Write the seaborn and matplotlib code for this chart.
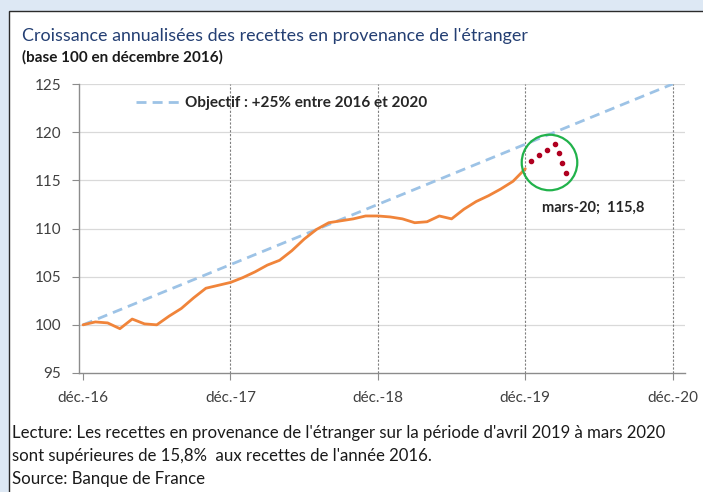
import seaborn as sns
import matplotlib.pyplot as plt
import matplotlib.patches as mpatches
import pandas as pd

# données (base 100 en décembre 2016), une valeur par mois à partir de déc.-16
recettes = [100.0, 100.3, 100.2, 99.6, 100.6, 100.1, 100.0, 100.9, 101.7, 102.8,
            103.8, 104.1, 104.4, 104.9, 105.5, 106.2, 106.7, 107.7, 108.9, 109.9,
            110.6, 110.8, 111.0, 111.3, 111.3, 111.2, 111.0, 110.6, 110.7, 111.3,
            111.0, 112.0, 112.8, 113.4, 114.1, 114.9, 116.2]
mois = list(range(len(recettes)))

# objectif : +25% entre déc. 2016 et déc. 2020
objectif_mois = [0, 48]
objectif_val = [100, 125]

# points rouges (projection dessinée à la main)
points_mois = [36.45, 37.1, 37.75, 38.4, 38.73, 39.0, 39.33]
points_val = [117.0, 117.6, 118.2, 118.8, 117.8, 116.8, 115.8]

ticks_mois = [0, 12, 24, 36, 48]
ticks_labels = ['déc.-16', 'déc.-17', 'déc.-18', 'déc.-19', 'déc.-20']
y_ticks = [95, 100, 105, 110, 115, 120, 125]

sns.set_style("white")
plt.rcParams['font.family'] = ['Lato', 'DejaVu Sans']

fig = plt.figure(figsize=(7.03, 4.92), dpi=100)
fig.patch.set_facecolor('#dde8f4')

# cadre blanc
fig.patches.append(mpatches.Rectangle((9 / 703, -0.01), 1, 1.01 - 11 / 492,
                                      transform=fig.transFigure, facecolor='white',
                                      edgecolor='#2b2b2b', linewidth=1.0, zorder=-5))

ax = fig.add_axes([79 / 703, 1 - 373 / 492, 606 / 703, 289 / 492])
ax.set_zorder(2)
ax.set_facecolor('white')

df = pd.DataFrame({'mois': mois, 'val': recettes})
obj = pd.DataFrame({'mois': objectif_mois, 'val': objectif_val})

sns.lineplot(data=obj, x='mois', y='val', ax=ax, color='#9dc3e6', linewidth=2,
             label='Objectif : +25% entre 2016 et 2020', dashes=(3.6, 2.2), zorder=2)
sns.lineplot(data=df, x='mois', y='val', ax=ax, color='#f0843a', linewidth=2,
             zorder=3)
ax.plot(points_mois, points_val, linestyle='none', marker='o', markersize=3,
        color='#b00020', zorder=4)
# cercle vert
ax.plot([37.9], [116.9], marker='o', markersize=40, markerfacecolor='none',
        markeredgecolor='#21b24b', markeredgewidth=1.6, linestyle='none', zorder=5)

ax.text(37.4, 112.2, 'mars-20;  115,8', fontsize=10.5, fontweight='bold',
        color='#262626', ha='left', va='center')

ax.set_xlim(-0.33, 49)
ax.set_ylim(95, 125)
ax.set_xticks(ticks_mois)
ax.set_xticklabels(ticks_labels)
ax.set_yticks(y_ticks)
ax.set_xlabel('')
ax.set_ylabel('')

for y in y_ticks[1:]:
    ax.axhline(y, color='#d9d9d9', linewidth=0.9, zorder=1)
for m in ticks_mois[1:]:
    ax.axvline(m, color='#7f7f7f', linewidth=0.8, linestyle=(0, (2, 1.5)), zorder=1)

for s in ['top', 'right']:
    ax.spines[s].set_visible(False)
for s in ['left', 'bottom']:
    ax.spines[s].set_color('#8c8c8c')
    ax.spines[s].set_linewidth(1.0)
ax.tick_params(axis='both', which='both', direction='out', length=5, width=0.8,
               color='#8c8c8c', labelsize=11, labelcolor='#404040')
ax.tick_params(axis='y', pad=8)
ax.tick_params(axis='x', pad=8)
ax.xaxis.set_ticks_position('bottom')
ax.yaxis.set_ticks_position('left')

leg = ax.legend(loc='center left', bbox_to_anchor=(0.085, 0.934), frameon=False,
                handlelength=3.3, handletextpad=0.2, borderaxespad=0)
for t in leg.get_texts():
    t.set_fontweight('bold')
    t.set_fontsize(11)
    t.set_color('#262626')

fig.text(22 / 703, 1 - 36 / 492, "Croissance annualisées des recettes en provenance de l'étranger",
         fontsize=12.9, color='#243f73', ha='left', va='center')
fig.text(22 / 703, 1 - 57 / 492, '(base 100 en décembre 2016)', fontsize=11,
         fontweight='bold', color='#1a1a1a', ha='left', va='center')

notes = ["Lecture: Les recettes en provenance de l'étranger sur la période d'avril 2019 à mars 2020",
         "sont supérieures de 15,8%  aux recettes de l'année 2016.",
         "Source: Banque de France"]
for i, ligne in enumerate(notes):
    fig.text(12 / 703, 1 - (433 + 23 * i) / 492, ligne, fontsize=12.1,
             color='#1a1a1a', ha='left', va='center')

fig.savefig('out.png', dpi=100, facecolor=fig.get_facecolor())
